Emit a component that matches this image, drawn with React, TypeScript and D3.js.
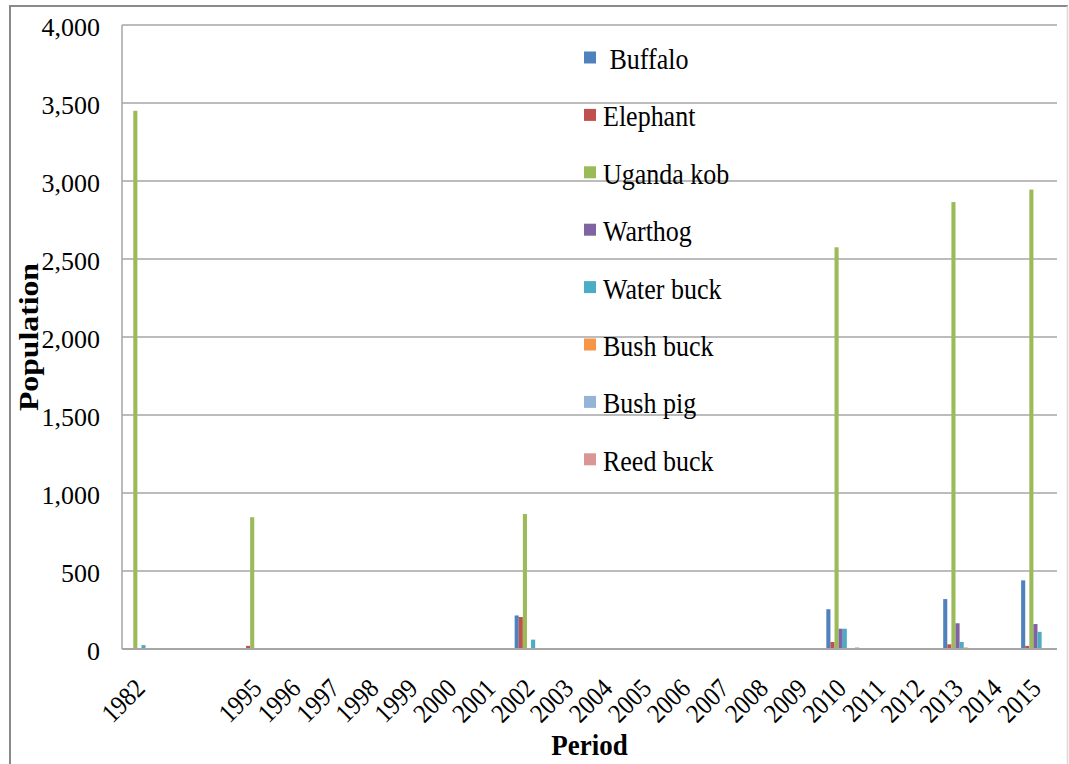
import React from "react";
import * as d3 from "d3";

// Survey periods (two unlabeled slots follow 1982 on the category axis)
const PERIODS = [
  "1982", "", "", "1995", "1996", "1997", "1998", "1999", "2000", "2001",
  "2002", "2003", "2004", "2005", "2006", "2007", "2008", "2009", "2010",
  "2011", "2012", "2013", "2014", "2015",
];

const SPECIES = [
  " Buffalo", "Elephant", "Uganda kob", "Warthog",
  "Water buck", "Bush buck", "Bush pig", "Reed buck",
];

const COLORS = [
  "#4F81BD", "#C0504D", "#9BBB59", "#8064A2",
  "#4BACC6", "#F79646", "#95B3D7", "#D99694",
];

// Population counts per species, one value per period slot
const BUFFALO =    [0, 0, 0, 0,   0, 0, 0, 0, 0, 0, 215, 0, 0, 0, 0, 0, 0, 0, 255,  0, 0, 320,  0, 440];
const ELEPHANT =   [0, 0, 0, 20,  0, 0, 0, 0, 0, 0, 205, 0, 0, 0, 0, 0, 0, 0, 45,   0, 0, 30,   0, 20];
const UGANDA_KOB = [3450, 0, 0, 845, 0, 0, 0, 0, 0, 0, 865, 0, 0, 0, 0, 0, 0, 0, 2575, 0, 0, 2865, 0, 2945];
const WARTHOG =    [0, 0, 0, 0,   0, 0, 0, 0, 0, 0, 0,   0, 0, 0, 0, 0, 0, 0, 130,  0, 0, 165,  0, 160];
const WATER_BUCK = [25, 0, 0, 0,  0, 0, 0, 0, 0, 0, 60,  0, 0, 0, 0, 0, 0, 0, 130,  0, 0, 45,   0, 110];
const BUSH_BUCK =  [0, 0, 0, 0,   0, 0, 0, 0, 0, 0, 0,   0, 0, 0, 0, 0, 0, 0, 0,    0, 0, 10,   0, 0];
const BUSH_PIG =   [0, 0, 0, 0,   0, 0, 0, 0, 0, 0, 0,   0, 0, 0, 0, 0, 0, 0, 0,    0, 0, 0,    0, 0];
const REED_BUCK =  [0, 0, 0, 0,   0, 0, 0, 0, 0, 0, 0,   0, 0, 0, 0, 0, 0, 0, 10,   0, 0, 0,    0, 0];

const SERIES = [BUFFALO, ELEPHANT, UGANDA_KOB, WARTHOG, WATER_BUCK, BUSH_BUCK, BUSH_PIG, REED_BUCK];

const Y_TICKS = [0, 500, 1000, 1500, 2000, 2500, 3000, 3500, 4000];

const W = 1069;
const H = 764;
const PLOT = { left: 122, right: 1057, top: 25, bottom: 649 };
const FONT = "Liberation Serif, Times New Roman, serif";
const TALL = 1.12; // vertical stretch applied to the serif text

export default function App() {
  const x = d3
    .scaleBand<number>()
    .domain(d3.range(PERIODS.length))
    .range([PLOT.left, PLOT.right])
    .paddingInner(0)
    .paddingOuter(0);

  const xInner = d3
    .scaleBand<number>()
    .domain(d3.range(SPECIES.length))
    .range([0, x.bandwidth()])
    .paddingInner(0)
    .paddingOuter(0.75);

  const y = d3.scaleLinear().domain([0, 4000]).range([PLOT.bottom, PLOT.top]);
  const fmt = d3.format(",");

  const legendX = 584;
  const legendBase0 = 69;
  const legendStep = 57.4;

  return (
    <svg
      width={W}
      height={H}
      viewBox={`0 0 ${W} ${H}`}
      style={{ position: "absolute", left: 0, top: 0, display: "block", background: "#fff" }}
    >
      {/* outer frame */}
      <line x1={10} y1={6} x2={1068} y2={6} stroke="#8a8a8a" strokeWidth={2} />
      <line x1={10} y1={5} x2={10} y2={H} stroke="#8a8a8a" strokeWidth={2} />
      <line x1={1067.5} y1={6} x2={1067.5} y2={H} stroke="#d8d8d8" strokeWidth={1.5} />

      {/* gridlines */}
      {Y_TICKS.filter((t) => t > 0).map((t) => (
        <line
          key={`g${t}`}
          x1={PLOT.left}
          x2={PLOT.right}
          y1={y(t)}
          y2={y(t)}
          stroke="#a6a6a6"
          strokeWidth={1.5}
        />
      ))}

      {/* vertical axis line */}
      <line x1={PLOT.left} x2={PLOT.left} y1={PLOT.top} y2={PLOT.bottom} stroke="#a6a6a6" strokeWidth={1.5} />

      {/* bars */}
      {SERIES.map((vals, s) =>
        vals.map((v, i) =>
          v > 0 ? (
            <rect
              key={`b${s}-${i}`}
              x={(x(i) as number) + (xInner(s) as number)}
              y={y(v)}
              width={xInner.bandwidth()}
              height={y(0) - y(v)}
              fill={COLORS[s]}
            />
          ) : null
        )
      )}

      {/* category axis line */}
      <line x1={PLOT.left} x2={PLOT.right} y1={PLOT.bottom} y2={PLOT.bottom} stroke="#a6a6a6" strokeWidth={2} />

      {/* y tick labels */}
      {Y_TICKS.map((t) => (
        <text
          key={`t${t}`}
          x={100}
          y={y(t) + 11}
          textAnchor="end"
          fontFamily={FONT}
          fontSize={26}
          fill="#000"
        >
          {fmt(t)}
        </text>
      ))}

      {/* x tick labels */}
      {PERIODS.map((p, i) =>
        p ? (
          <text
            key={`x${i}`}
            transform={`translate(${(x(i) as number) + x.bandwidth() / 2 + 5},${690}) rotate(-45) scale(1,${TALL})`}
            textAnchor="end"
            fontFamily={FONT}
            fontSize={24}
            fill="#000"
          >
            {p}
          </text>
        ) : null
      )}

      {/* axis titles */}
      <text
        transform={`translate(${(PLOT.left + PLOT.right) / 2},755) scale(1,${TALL})`}
        textAnchor="middle"
        fontFamily={FONT}
        fontSize={27}
        fontWeight="bold"
        fill="#000"
      >
        Period
      </text>
      <text
        transform={`translate(38,${(PLOT.top + PLOT.bottom) / 2}) rotate(-90)`}
        textAnchor="middle"
        fontFamily={FONT}
        fontSize={28}
        fontWeight="bold"
        fill="#000"
        textLength={148}
        lengthAdjust="spacingAndGlyphs"
      >
        Population
      </text>

      {/* legend */}
      {SPECIES.map((name, s) => {
        const base = legendBase0 + s * legendStep;
        return (
          <g key={`l${s}`}>
            <rect x={legendX} y={base - 17.5} width={12} height={12} fill={COLORS[s]} />
            <text
              transform={`translate(603,${base}) scale(1,${TALL})`}
              fontFamily={FONT}
              fontSize={26}
              fill="#000"
              style={{ whiteSpace: "pre" }}
            >
              {name}
            </text>
          </g>
        );
      })}
    </svg>
  );
}
